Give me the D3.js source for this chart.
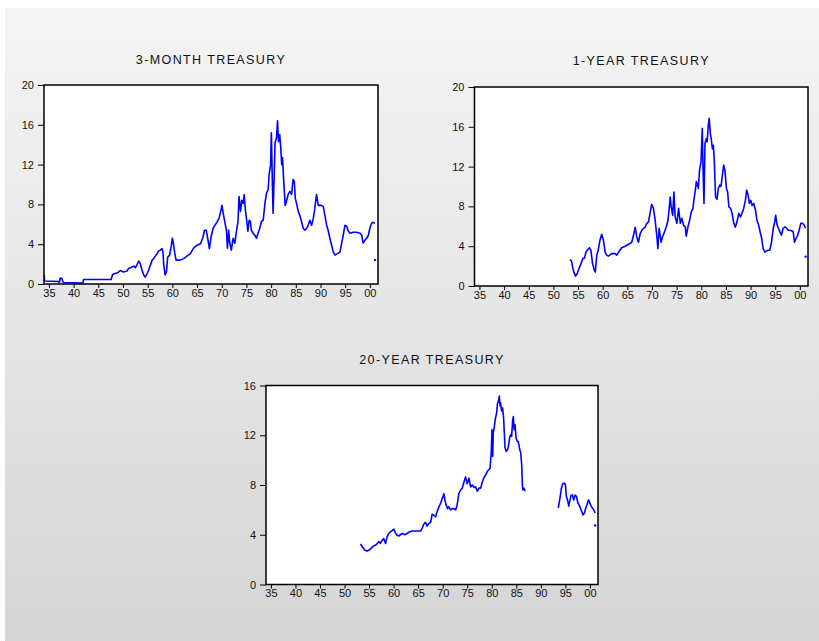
<!DOCTYPE html>
<html><head><meta charset="utf-8">
<script src="https://cdn.jsdelivr.net/npm/d3@7"></script>
<style>body{margin:0;background:#fff} svg{display:block}</style>
</head><body><svg id="c" width="819" height="641"></svg>
<script>
// ---- data (year, rate %) ; null = gap in the series ----
const yearTicks = [1935,1940,1945,1950,1955,1960,1965,1970,1975,1980,1985,1990,1995,2000];
const yearLabels = ["35","40","45","50","55","60","65","70","75","80","85","90","95","00"];
const rateTicks20 = [0,4,8,12,16,20];
const rateTicks16 = [0,4,8,12,16];
const titles = ["3-MONTH TREASURY","1-YEAR TREASURY","20-YEAR TREASURY"];

const threeMonth = [[1934.05,0.9],[1934.12,0.3],[1936.9,0.25],[1937.1,0.15],[1937.3,0.6],[1937.6,0.55],[1937.9,0.15],[1941.9,0.1],[1942.0,0.45],[1947.6,0.45],[1947.9,0.95],[1948.4,1.05],[1948.8,1.1],[1949.45,1.35],[1950.1,1.2],[1950.8,1.3],[1951.1,1.55],[1951.6,1.65],[1952.2,1.8],[1952.5,1.65],[1952.8,1.9],[1953.2,2.3],[1953.5,2.05],[1953.85,1.4],[1954.2,0.9],[1954.5,0.7],[1954.85,1.0],[1955.2,1.4],[1955.55,1.9],[1955.9,2.4],[1956.2,2.55],[1956.9,3.05],[1957.2,3.3],[1957.55,3.4],[1957.9,3.55],[1958.1,3.2],[1958.25,1.9],[1958.55,0.9],[1958.8,1.2],[1959.05,2.7],[1959.45,2.9],[1959.8,3.9],[1960.0,4.6],[1960.2,4.1],[1960.45,3.2],[1960.75,2.4],[1961.6,2.4],[1962.3,2.55],[1962.95,2.8],[1963.65,3.05],[1964.3,3.6],[1965.0,3.9],[1965.7,4.05],[1966.2,4.7],[1966.5,5.4],[1966.85,5.4],[1967.15,4.6],[1967.5,3.55],[1967.85,4.75],[1968.25,5.6],[1968.6,5.9],[1968.9,6.1],[1969.45,6.6],[1969.8,7.3],[1970.05,7.9],[1970.3,7.1],[1970.6,6.3],[1970.95,5.4],[1971.15,3.6],[1971.4,5.4],[1971.6,4.2],[1971.95,3.4],[1972.3,4.6],[1972.65,4.1],[1973.0,5.4],[1973.3,6.3],[1973.5,8.8],[1973.8,7.3],[1974.05,8.4],[1974.35,8.1],[1974.55,9.0],[1974.8,7.4],[1975.0,6.6],[1975.3,5.3],[1975.55,6.4],[1975.8,6.3],[1976.0,5.4],[1976.35,5.1],[1976.7,4.9],[1977.05,4.6],[1977.35,5.1],[1977.7,5.6],[1978.05,6.3],[1978.4,6.4],[1978.75,8.1],[1979.05,9.1],[1979.4,9.5],[1979.6,11.0],[1979.9,12.0],[1980.05,15.2],[1980.25,10.2],[1980.4,7.1],[1980.6,10.5],[1980.8,14.2],[1981.1,14.7],[1981.3,16.4],[1981.5,14.3],[1981.75,15.0],[1981.95,13.7],[1982.15,12.0],[1982.3,12.7],[1982.6,10.0],[1982.85,7.9],[1983.1,8.3],[1983.45,9.0],[1983.8,9.3],[1984.15,9.0],[1984.45,10.5],[1984.7,10.3],[1984.9,8.6],[1985.15,8.1],[1985.5,7.3],[1985.8,6.9],[1986.15,6.3],[1986.5,5.6],[1986.85,5.4],[1987.2,5.6],[1987.5,5.9],[1987.85,6.4],[1988.2,5.9],[1988.55,6.6],[1988.85,7.6],[1989.2,9.0],[1989.55,7.9],[1990.2,7.9],[1990.55,7.8],[1990.9,6.9],[1991.25,5.9],[1991.55,5.4],[1991.9,4.6],[1992.25,3.9],[1992.6,3.2],[1992.95,2.9],[1993.6,3.1],[1993.95,3.2],[1994.3,4.1],[1994.6,4.9],[1994.95,5.9],[1995.3,5.8],[1995.65,5.3],[1996.0,5.1],[1996.65,5.2],[1997.3,5.2],[1998.0,5.1],[1998.35,4.9],[1998.65,4.1],[1999.0,4.4],[1999.35,4.6],[1999.7,4.9],[2000.0,5.6],[2000.35,6.1],[2000.7,6.2],[2001.0,6.1],[2001.02,null],[2001.05,2.4]];

const oneYear = [[1953.35,2.65],[1953.7,2.5],[1953.9,1.9],[1954.15,1.4],[1954.5,1.0],[1954.85,1.25],[1955.2,1.75],[1955.6,2.25],[1955.95,2.75],[1956.3,2.8],[1956.6,3.4],[1956.95,3.65],[1957.3,3.85],[1957.6,3.6],[1957.95,2.25],[1958.3,1.6],[1958.5,1.4],[1958.8,3.1],[1959.1,3.6],[1959.45,4.6],[1959.8,5.2],[1960.15,4.6],[1960.5,3.4],[1960.8,3.1],[1961.15,3.0],[1961.85,3.25],[1962.5,3.25],[1962.85,3.1],[1963.5,3.6],[1963.85,3.85],[1964.55,4.0],[1965.25,4.2],[1965.9,4.4],[1966.25,5.1],[1966.6,5.9],[1966.9,4.95],[1967.25,4.4],[1967.6,5.25],[1967.95,5.6],[1968.3,5.8],[1968.6,5.9],[1968.95,6.3],[1969.3,6.45],[1969.65,7.45],[1969.95,8.2],[1970.3,7.8],[1970.65,6.6],[1971.0,4.95],[1971.2,3.75],[1971.45,5.8],[1971.85,4.4],[1972.15,4.95],[1972.55,5.45],[1972.9,5.95],[1973.25,6.6],[1973.5,7.8],[1973.7,8.95],[1973.9,7.95],[1974.2,7.1],[1974.45,9.45],[1974.7,6.95],[1975.05,6.3],[1975.4,7.8],[1975.75,6.3],[1976.05,6.8],[1976.4,6.1],[1976.75,5.95],[1976.95,5.0],[1977.3,5.95],[1977.65,6.6],[1977.95,7.4],[1978.3,7.8],[1978.5,8.6],[1978.8,9.65],[1979.0,10.5],[1979.2,10.15],[1979.4,9.8],[1979.65,11.65],[1979.95,12.5],[1980.2,15.85],[1980.35,12.0],[1980.55,8.3],[1980.75,14.3],[1981.0,14.8],[1981.2,14.5],[1981.4,16.0],[1981.6,16.85],[1981.85,15.3],[1982.05,14.7],[1982.25,13.8],[1982.45,14.15],[1982.65,12.5],[1982.9,8.95],[1983.2,8.7],[1983.45,9.8],[1983.75,10.15],[1984.0,10.0],[1984.25,11.0],[1984.55,12.15],[1984.8,11.65],[1985.1,9.8],[1985.35,9.45],[1985.6,7.95],[1985.95,7.8],[1986.25,7.3],[1986.6,6.3],[1986.9,5.9],[1987.25,6.45],[1987.6,7.3],[1987.95,6.95],[1988.25,7.3],[1988.6,7.8],[1988.95,8.6],[1989.2,9.65],[1989.5,9.15],[1989.75,8.3],[1990.05,8.6],[1990.3,8.1],[1990.65,8.3],[1991.0,7.6],[1991.3,6.6],[1991.65,6.1],[1992.0,5.3],[1992.25,4.8],[1992.55,3.75],[1992.9,3.4],[1993.2,3.5],[1993.55,3.6],[1993.9,3.6],[1994.25,4.4],[1994.6,5.8],[1994.85,6.3],[1995.1,7.1],[1995.4,6.1],[1995.65,5.8],[1995.95,5.45],[1996.25,5.1],[1996.6,5.8],[1997.0,5.95],[1997.3,5.8],[1997.65,5.6],[1997.95,5.6],[1998.3,5.55],[1998.65,5.45],[1998.9,4.4],[1999.2,4.75],[1999.55,5.1],[1999.85,5.6],[2000.2,6.3],[2000.55,6.3],[2000.9,6.1],[2001.15,5.8],[2001.16,null],[2001.17,2.95]];

const twentyYear = [[1953.25,3.25],[1953.7,3.0],[1954.15,2.75],[1954.6,2.7],[1955.1,2.8],[1955.5,2.95],[1955.95,3.1],[1956.45,3.2],[1957.0,3.45],[1957.3,3.3],[1957.65,3.55],[1958.0,3.7],[1958.35,3.3],[1958.7,3.85],[1959.0,4.1],[1959.55,4.3],[1960.05,4.45],[1960.4,4.15],[1960.7,3.95],[1961.05,3.9],[1961.4,4.0],[1961.75,4.1],[1962.3,4.0],[1962.75,4.1],[1963.1,4.2],[1963.8,4.3],[1965.5,4.3],[1965.85,4.55],[1966.15,4.85],[1966.5,5.0],[1966.85,4.7],[1967.2,4.9],[1967.55,5.0],[1967.85,5.65],[1968.2,5.55],[1968.55,5.45],[1968.9,5.9],[1969.25,6.25],[1969.55,6.5],[1969.9,6.9],[1970.25,7.3],[1970.45,6.8],[1970.7,6.4],[1971.0,6.1],[1971.25,6.25],[1971.6,6.0],[1971.95,6.1],[1972.3,6.1],[1972.65,6.0],[1972.95,6.4],[1973.3,7.3],[1973.65,7.6],[1974.0,7.75],[1974.35,8.25],[1974.65,8.65],[1975.0,8.1],[1975.35,8.55],[1975.7,7.85],[1976.05,8.0],[1976.4,7.8],[1976.7,7.85],[1977.05,7.5],[1977.4,7.75],[1977.75,7.75],[1978.05,8.2],[1978.4,8.6],[1978.75,8.8],[1979.1,9.1],[1979.45,9.25],[1979.65,9.35],[1979.9,10.6],[1980.05,12.45],[1980.2,10.3],[1980.3,12.2],[1980.5,12.6],[1980.7,13.25],[1981.0,13.8],[1981.15,14.5],[1981.35,14.75],[1981.55,15.15],[1981.7,14.35],[1981.8,14.6],[1982.0,13.95],[1982.2,14.2],[1982.4,13.5],[1982.55,12.3],[1982.7,11.0],[1982.95,10.7],[1983.25,10.85],[1983.45,11.25],[1983.65,11.8],[1983.85,12.05],[1984.05,11.9],[1984.25,13.15],[1984.4,13.5],[1984.55,12.45],[1984.75,12.85],[1984.95,11.8],[1985.2,11.5],[1985.4,11.5],[1985.7,10.85],[1985.9,10.6],[1986.1,9.65],[1986.25,7.9],[1986.35,7.6],[1986.55,7.75],[1986.8,7.5],[1986.85,null],[1993.55,6.15],[1993.9,6.95],[1994.2,7.75],[1994.45,8.1],[1994.75,8.15],[1995.0,8.05],[1995.2,7.1],[1995.5,6.7],[1995.7,6.3],[1995.9,6.7],[1996.15,7.15],[1996.45,7.2],[1996.7,6.8],[1997.0,7.2],[1997.25,7.1],[1997.55,6.55],[1997.8,6.4],[1998.05,6.15],[1998.35,5.85],[1998.6,5.6],[1998.9,5.75],[1999.15,6.15],[1999.45,6.45],[1999.7,6.8],[2000.0,6.55],[2000.25,6.3],[2000.5,6.15],[2000.8,6.0],[2001.05,5.75],[2001.07,null],[2001.08,4.75]];

// ---- drawing ----
const svg = d3.select("#c");
const FONT = "'Liberation Sans', Arial, sans-serif";
const defs = svg.append("defs");
const grad = defs.append("linearGradient").attr("id","bg").attr("x1",0).attr("y1",0).attr("x2",0).attr("y2",1);
grad.append("stop").attr("offset","0%").attr("stop-color","#f4f4f4");
grad.append("stop").attr("offset","100%").attr("stop-color","#d5d5d5");
svg.append("rect").attr("x",0).attr("y",0).attr("width",819).attr("height",641).attr("fill","#fff");
svg.append("rect").attr("x",5).attr("y",8).attr("width",814).attr("height",633).attr("fill","url(#bg)");

const panels = [
  {title:titles[0], data:threeMonth, l:44, r:378, t:85, b:284, ymax:20, yt:rateTicks20, ty:64},
  {title:titles[1], data:oneYear, l:474.5, r:808, t:87, b:286, ymax:20, yt:rateTicks20, ty:65},
  {title:titles[2], data:twentyYear, l:266, r:598, t:385.5, b:584.5, ymax:16, yt:rateTicks16, ty:364}
];

panels.forEach((p,i) => {
  const x = d3.scaleLinear().domain([1934,2001.65]).range([p.l,p.r]);
  const y = d3.scaleLinear().domain([0,p.ymax]).range([p.b,p.t]);
  const g = svg.append("g");
  g.append("rect").attr("x",p.l).attr("y",p.t).attr("width",p.r-p.l).attr("height",p.b-p.t).attr("fill","#fff");
  defs.append("clipPath").attr("id","cp"+i).append("rect")
    .attr("x",p.l).attr("y",p.t).attr("width",p.r-p.l).attr("height",p.b-p.t);
  const line = d3.line().defined(d => d[1] !== null).x(d => x(d[0])).y(d => y(d[1]));
  const plot = g.append("g").attr("clip-path","url(#cp"+i+")");
  plot.append("path").datum(p.data).attr("d",line)
    .attr("fill","none").attr("stroke","#0000ff").attr("stroke-width",1.6).attr("stroke-linejoin","round");
  const iso = p.data.filter((d,k,a) => d[1] !== null &&
     (k===0 || a[k-1][1]===null) && (k===a.length-1 || a[k+1][1]===null));
  plot.selectAll("circle.iso").data(iso).join("circle").attr("class","iso")
    .attr("cx",d=>x(d[0])).attr("cy",d=>y(d[1])).attr("r",1.2).attr("fill","#0000ff");

  const xa = g.append("g").attr("transform",`translate(0,${p.b})`)
    .call(d3.axisBottom(x).tickValues(yearTicks).tickFormat((d,k)=>yearLabels[k]).tickSize(4).tickPadding(1));
  const ya = g.append("g").attr("transform",`translate(${p.l},0)`)
    .call(d3.axisLeft(y).tickValues(p.yt).tickFormat(d3.format("d")).tickSize(6).tickPadding(4));
  [xa,ya].forEach(a => {
    a.select(".domain").remove();
    a.selectAll("line").attr("stroke","#000");
    a.selectAll("text").attr("font-family",FONT).attr("font-size","11px").attr("fill","#111");
  });
  g.append("rect").attr("x",p.l).attr("y",p.t).attr("width",p.r-p.l).attr("height",p.b-p.t)
    .attr("fill","none").attr("stroke","#000").attr("stroke-width",1.5);
  g.append("text").attr("x",(p.l+p.r)/2).attr("y",p.ty).attr("text-anchor","middle")
    .attr("font-family",FONT).attr("font-size","12.5px").attr("letter-spacing","1.4px")
    .attr("fill","#111").text(p.title);
});
</script></body></html>
